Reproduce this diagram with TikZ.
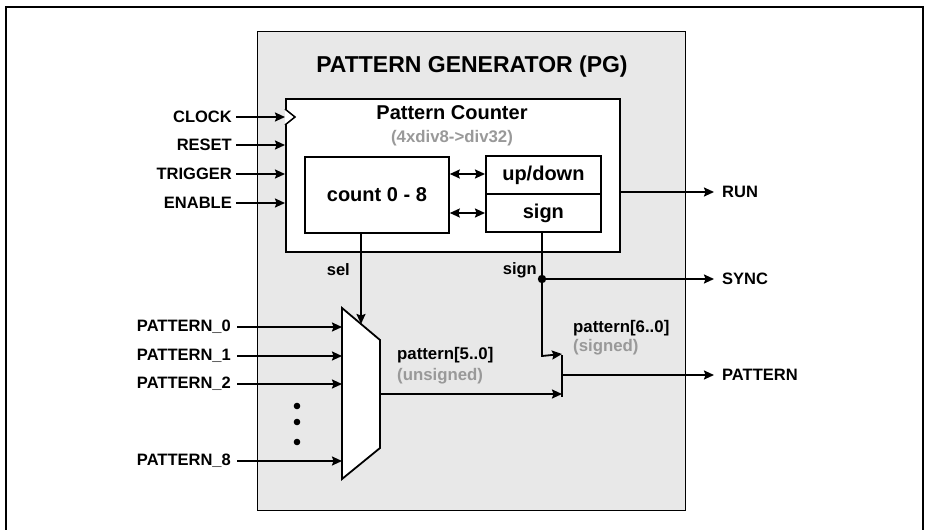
\documentclass[tikz,border=0pt]{standalone}
\usepackage{fontspec}
\setmainfont{Liberation Sans}
\usetikzlibrary{arrows.meta}
\definecolor{pgfill}{HTML}{E8E8E8}
\definecolor{graytxt}{HTML}{999999}
\begin{document}
\begin{tikzpicture}[x=1pt,y=-1pt,
  wire/.style={line width=1.8pt},
  tip/.tip={Stealth[length=10pt,width=9pt,inset=1.5pt]},
  arr/.style={wire,-tip},
  darr/.style={wire,tip-tip},
  box/.style={draw,line width=1.8pt,fill=white,inner sep=0pt,anchor=north west},
  lbl/.style={font=\bfseries\fontsize{16.5}{18}\selectfont,inner sep=0pt},
  mid/.style={font=\bfseries\fontsize{20}{22}\selectfont,inner sep=0pt},
  gry/.style={font=\bfseries\fontsize{16.8}{18}\selectfont,text=graytxt,inner sep=0pt},
]
\useasboundingbox (0,0) rectangle (927,530);
% outer frame
\draw[line width=2.2pt] (6,545) -- (6,7) -- (923,7) -- (923,545);
% pattern generator block
\node[draw,fill=pgfill,line width=1.3pt,inner sep=0pt,minimum width=428pt,minimum height=479pt,anchor=north west] (pg) at (257,31) {};
\node[font=\bfseries\fontsize{23}{25}\selectfont,inner sep=0pt] (title) at (472,67) {PATTERN GENERATOR (PG)};
% pattern counter
\node[box,minimum width=334pt,minimum height=153pt] (pc) at (285,98) {};
\node[mid] (pctitle) at (452,113) {Pattern Counter};
\node[gry] (pcsub) at (452,138) {(4xdiv8->div32)};
\draw[line width=1.5pt,fill=white] (285,109) -- (295,117) -- (285,125);
\node[box,minimum width=144pt,minimum height=76pt] (cnt) at (304,156) {};
\node[mid] at (cnt.center) {count 0 - 8};
\node[box,minimum width=115pt,minimum height=38pt] (ud) at (485,155) {};
\node[mid] at (ud.center) {up/down};
\node[box,minimum width=115pt,minimum height=38pt] (sg) at (485,193) {};
\node[mid] at (sg.center) {sign};
\draw[darr] (cnt.east |- 0,174) -- (ud.west |- 0,174);
\draw[darr] (cnt.east |- 0,213) -- (sg.west |- 0,213);
% inputs
\node[lbl,anchor=east] (clk) at (232,117) {CLOCK};
\node[lbl,anchor=east] (rst) at (232,145) {RESET};
\node[lbl,anchor=east] (trg) at (232,174) {TRIGGER};
\node[lbl,anchor=east] (en) at (232,203) {ENABLE};
\draw[arr] (clk.east) ++(4,0) -- (pc.west |- clk.east);
\draw[arr] (rst.east) ++(4,0) -- (pc.west |- rst.east);
\draw[arr] (trg.east) ++(4,0) -- (pc.west |- trg.east);
\draw[arr] (en.east) ++(4,0) -- (pc.west |- en.east);
% outputs
\node[lbl,anchor=west] (run) at (722,192) {RUN};
\node[lbl,anchor=west] (sync) at (722,279) {SYNC};
\node[lbl,anchor=west] (pat) at (722,375) {PATTERN};
\draw[arr] (pc.east |- run.west) -- ([xshift=-8pt]run.west);
% mux
\coordinate (m1) at (342,308);
\coordinate (m2) at (380,340);
\coordinate (m3) at (380,448);
\coordinate (m4) at (342,479);
\draw[wire,fill=white,line join=miter] (m1) -- (m2) -- (m3) -- (m4) -- cycle;
\coordinate (mout) at (380,394);
\coordinate (selin) at (361,324);
\draw[arr] (cnt.south -| selin) -- (selin);
\node[lbl,anchor=east] (sel) at (350,270) {sel};
% pattern inputs
\node[lbl,anchor=east] (p0) at (231,327) {PATTERN\_0};
\node[lbl,anchor=east] (p1) at (231,356) {PATTERN\_1};
\node[lbl,anchor=east] (p2) at (231,384) {PATTERN\_2};
\node[lbl,anchor=east] (p8) at (231,461) {PATTERN\_8};
\draw[arr] (p0.east) ++(6,0) -- (m1 |- p0.east);
\draw[arr] (p1.east) ++(6,0) -- (m1 |- p1.east);
\draw[arr] (p2.east) ++(6,0) -- (m1 |- p2.east);
\draw[arr] (p8.east) ++(6,0) -- (m1 |- p8.east);
\fill (297,406) circle (3.3pt) (297,422) circle (3.3pt) (297,442) circle (3.3pt);
% combiner
\coordinate (ct) at (562,355);
\coordinate (cb) at (562,397);
\coordinate (cout) at (562,375);
\draw[wire] (ct) -- (cb);
\draw[arr] (mout) -- (mout -| ct);
\coordinate (sdot) at (542,279);
\draw[wire] (sg.south -| sdot) -- (sdot);
\draw[arr] (sdot) -- (542,356) -- ([yshift=1pt]ct);
\fill (sdot) circle (4.2pt);
\draw[arr] (sdot) -- ([xshift=-8pt]sync.west);
\node[lbl,anchor=east] (signlbl) at (537,270) {sign};
\draw[arr] (cout) -- ([xshift=-8pt]pat.west);
% bus labels
\node[lbl,anchor=west,font=\bfseries\fontsize{16.8}{18}\selectfont] (b5) at (397,355) {pattern[5..0]};
\node[gry,anchor=west] (b5u) at (397,376) {(unsigned)};
\node[lbl,anchor=west,font=\bfseries\fontsize{16.8}{18}\selectfont] (b6) at (573,328) {pattern[6..0]};
\node[gry,anchor=west] (b6s) at (573,347) {(signed)};
\end{tikzpicture}
\end{document}
